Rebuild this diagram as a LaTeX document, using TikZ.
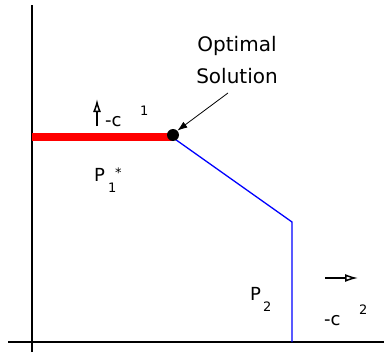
\documentclass[tikz,border=0pt]{standalone}
\usepackage{fontspec}
\setmainfont{DejaVu Sans}
\usetikzlibrary{arrows.meta}
\begin{document}
\begin{tikzpicture}[x=1pt,y=-1pt,
  axis/.style={line width=1.5pt,black},
  bluebd/.style={line width=1.3pt,blue},
  redbd/.style={line width=8pt,red},
  lbl/.style={inner sep=0pt,font=\fontsize{18}{20}\selectfont},
  sml/.style={inner sep=0pt,font=\fontsize{13}{14}\selectfont},
  hollowarrow/.style={line width=1.5pt,-{Latex[open,length=13pt,width=8pt]}}]
\useasboundingbox (0,0) rectangle (384,356);
% axes
\coordinate (ytop) at (32,5);
\coordinate (ybot) at (32,352);
\coordinate (xl) at (8,342);
\coordinate (xr) at (384,342);
\draw[axis] (ybot) -- (ytop);
\draw[axis] (xl) -- (xr);
% feasible region boundary
\coordinate (rl) at (32,137);
\coordinate (opt) at (172,137);
\coordinate (corner) at (292,222);
\coordinate (foot) at (292,342);
\draw[bluebd] (opt) -- (corner) -- (foot);
\draw[redbd] (rl) -- (opt);
\node[circle,fill=black,minimum size=12pt,inner sep=0pt] (dot) at (173,135) {};
% optimal solution label
\node[align=center,inner sep=0pt,font=\fontsize{20}{32}\selectfont] (optlbl) at (237,60) {Optimal\\Solution};
\coordinate (ostart) at (228,93);
\draw[line width=0.8pt,-{Latex[length=10pt,width=7pt]}] (ostart) -- (dot.north east);
% -c1 arrow
\coordinate (u1a) at (97,126);
\coordinate (u1b) at (97,99);
\draw[hollowarrow] (u1a) -- (u1b);
\node[lbl,anchor=base west] (c1) at (105,127) {-c};
\node[sml,anchor=base west] (s1) at (140,116) {1};
% P1*
\node[lbl,anchor=base west] (p1) at (94,182) {P};
\node[sml,anchor=base west] (p1s) at (108,193) {1};
\node[sml,anchor=base west] (p1st) at (115,178) {*};
% P2
\node[lbl,anchor=base west] (p2) at (250,300) {P};
\node[sml,anchor=base west] (p2s) at (263,311) {2};
% -c2 arrow
\coordinate (r2a) at (325,278);
\coordinate (r2b) at (358,278);
\draw[hollowarrow] (r2a) -- (r2b);
\node[lbl,anchor=base west] (c2) at (324,325) {-c};
\node[sml,anchor=base west] (s2) at (359,314) {2};
\end{tikzpicture}
\end{document}
